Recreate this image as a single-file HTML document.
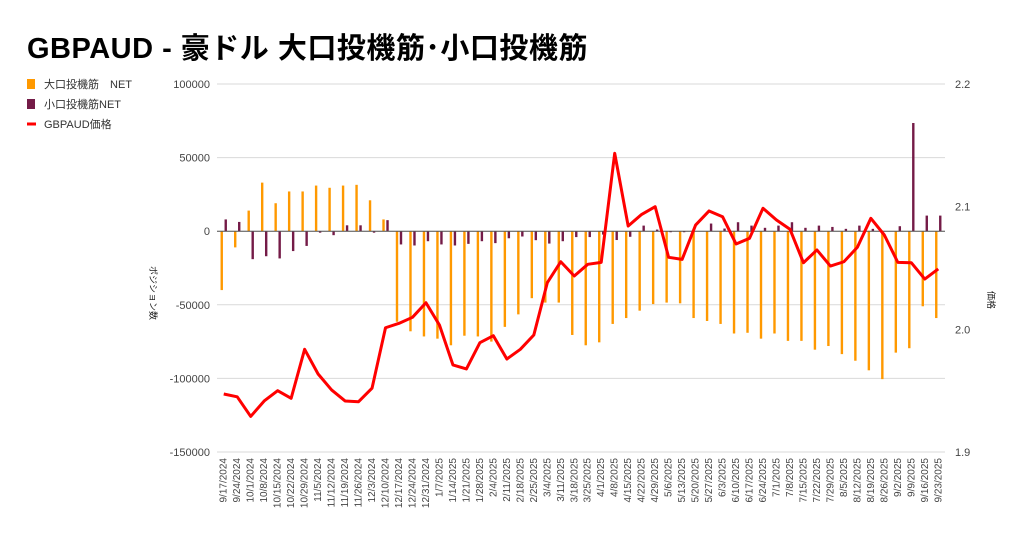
<!DOCTYPE html>
<html><head><meta charset="utf-8"><style>
body{margin:0;background:#fff;font-family:"Liberation Sans","Noto Sans CJK JP",sans-serif;}
#wrap{position:relative;width:1024px;height:535px;overflow:hidden;}
h1{position:absolute;left:27px;top:25px;margin:0;font-size:29px;font-weight:bold;color:#000;letter-spacing:0.5px;font-family:"Liberation Sans","Noto Sans CJK JP",sans-serif;}
</style></head><body>
<div id="wrap">
<h1>GBPAUD - 豪ドル 大口投機筋･小口投機筋</h1>
<svg id="chart" width="1024" height="535" style="position:absolute;left:0;top:0"></svg>
</div>
<script>
const categories=["9/17/2024","9/24/2024","10/1/2024","10/8/2024","10/15/2024","10/22/2024","10/29/2024","11/5/2024","11/12/2024","11/19/2024","11/26/2024","12/3/2024","12/10/2024","12/17/2024","12/24/2024","12/31/2024","1/7/2025","1/14/2025","1/21/2025","1/28/2025","2/4/2025","2/11/2025","2/18/2025","2/25/2025","3/4/2025","3/11/2025","3/18/2025","3/25/2025","4/1/2025","4/8/2025","4/15/2025","4/22/2025","4/29/2025","5/6/2025","5/13/2025","5/20/2025","5/27/2025","6/3/2025","6/10/2025","6/17/2025","6/24/2025","7/1/2025","7/8/2025","7/15/2025","7/22/2025","7/29/2025","8/5/2025","8/12/2025","8/19/2025","8/26/2025","9/2/2025","9/9/2025","9/16/2025","9/23/2025"];
const largeNet=[-40000,-11000,14000,33000,19000,27000,27000,31000,29500,31000,31500,21000,8000,-61500,-68000,-71500,-73000,-77500,-71000,-71500,-75000,-65000,-56500,-45500,-48500,-48500,-70500,-77500,-75500,-63000,-59000,-54000,-49500,-48500,-49000,-59000,-61000,-63000,-69500,-69000,-73000,-69500,-74500,-74500,-80500,-78000,-83500,-88000,-94500,-100500,-82500,-79500,-51000,-59000];
const smallNet=[8000,6300,-19000,-17000,-18500,-13500,-10000,-1000,-2700,4000,4000,-1000,7500,-9000,-9700,-6800,-9000,-9700,-8600,-6800,-8100,-4800,-3600,-6100,-8400,-6800,-4000,-4000,-2300,-6000,-3800,3800,1100,-700,-700,0,5200,1800,6100,3800,2300,3800,6100,2300,3800,2900,1600,3800,1600,0,3400,73500,10600,10600];
const price=[1.9473,1.945,1.929,1.9416,1.950,1.9438,1.9837,1.9636,1.9506,1.9416,1.941,1.952,2.0013,2.0049,2.0098,2.0217,2.0035,1.971,1.9677,1.9891,1.9948,1.9758,1.9837,1.9954,2.038,2.0551,2.0435,2.053,2.0546,2.1435,2.0842,2.0937,2.1,2.0587,2.057,2.085,2.0965,2.0918,2.0696,2.0742,2.0987,2.0891,2.0816,2.0543,2.0647,2.0516,2.0551,2.0669,2.0905,2.0769,2.0546,2.0543,2.041,2.0492];
const leftTicks=[100000,50000,0,-50000,-100000,-150000];
const rightTicks=[2.2,2.1,2.0,1.9];

const svg=document.getElementById('chart');
const NS='http://www.w3.org/2000/svg';
const X0=217,X1=945,Y0=84,Y1=452;
const band=(X1-X0)/categories.length;
const xc=i=>X0+band*(i+0.5);
const yL=v=>Y0+(100000-v)/250000*(Y1-Y0);
const yR=v=>Y0+(2.2-v)/0.3*(Y1-Y0);
function mk(tag,attrs,parent){const e=document.createElementNS(NS,tag);for(const k in attrs)e.setAttribute(k,attrs[k]);(parent||svg).appendChild(e);return e;}

leftTicks.forEach(t=>{
  const g=mk('line',{x1:X0,x2:X1,y1:yL(t),y2:yL(t),stroke:'#d9d9d9','stroke-width':1});
  
  
  const tx=mk('text',{x:210,y:yL(t)+4,'text-anchor':'end','font-size':11,fill:'#444'});
  tx.textContent=t;
  
  
});
rightTicks.forEach(t=>{
  const tx=mk('text',{x:955,y:yR(t)+4,'font-size':11,fill:'#444'});
  tx.textContent=t.toFixed(1);
  
  
});
categories.forEach((c,i)=>{
  const x=xc(i)+3;
  const tx=mk('text',{x:x,y:458,'text-anchor':'end','font-size':10,fill:'#444',transform:`rotate(-90 ${x} 458)`});
  tx.textContent=c;
  
  
});
largeNet.forEach((v,i)=>{
  const y=yL(v),z=yL(0);
  const r=mk('rect',{x:xc(i)-3.2,y:Math.min(y,z),width:2.4,height:Math.abs(y-z),fill:'#ff9900'});
  
  
});
smallNet.forEach((v,i)=>{
  const y=yL(v),z=yL(0);
  const r=mk('rect',{x:xc(i)+0.8,y:Math.min(y,z),width:2.4,height:Math.abs(y-z),fill:'#741b47'});
  
  
});
const zl=mk('line',{x1:X0,x2:X1,y1:yL(0),y2:yL(0),stroke:'#555','stroke-width':1});


const pl=mk('polyline',{points:price.map((p,i)=>xc(i)+','+yR(p)).join(' '),fill:'none',stroke:'#ff0000','stroke-width':3,'stroke-linejoin':'round'});



const yt=mk('text',{x:150,y:293,'font-size':9,fill:'#222','text-anchor':'middle',transform:'rotate(90 150 293)'});
yt.textContent='ポジション数';


const rt=mk('text',{x:988,y:300,'font-size':9,fill:'#222','text-anchor':'middle',transform:'rotate(90 988 300)'});
rt.textContent='価格';



const legend=[['#ff9900','大口投機筋　NET','rect'],['#741b47','小口投機筋NET','rect'],['#ff0000','GBPAUD価格','line']];
legend.forEach((l,i)=>{
  const y=84+i*20;
  let s;
  if(l[2]==='rect') s=mk('rect',{x:27,y:y-5,width:8,height:10,fill:l[0]});
  else s=mk('rect',{x:27,y:y-1.5,width:9,height:3,fill:l[0]});
  
  
  const t=mk('text',{x:44,y:y+4,'font-size':11,fill:'#333'});
  t.textContent=l[1];
  
  
});
</script>
</body></html>
